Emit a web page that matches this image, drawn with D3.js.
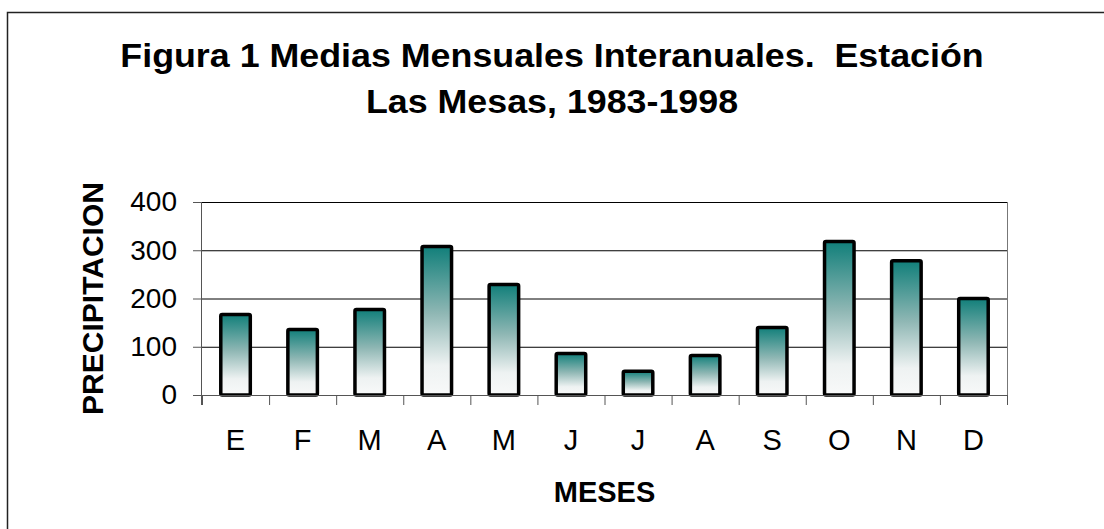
<!DOCTYPE html>
<html>
<head>
<meta charset="utf-8">
<script src="https://cdn.jsdelivr.net/npm/d3@7"></script>
<style>
  body { margin: 0; background: #fff; }
  svg { display: block; font-family: "Liberation Sans", Arial, sans-serif; }
  .title { white-space: pre; }
</style>
</head>
<body>
<svg id="chart" width="1104" height="529"></svg>
<script>
// monthly means, Las Mesas 1983-1998
var months = ["E", "F", "M", "A", "M", "J", "J", "A", "S", "O", "N", "D"];
var precip = [167, 136, 177, 308, 229, 86, 49, 82, 140, 318, 278, 200];
var yTicks = [0, 100, 200, 300, 400];
var titleLines = ["Figura 1 Medias Mensuales Interanuales.  Estación", "Las Mesas, 1983-1998"];

var svg = d3.select("#chart"),
    margin = {left: 202, top: 202, right: 97, bottom: 134},
    width = 1104 - margin.left - margin.right,
    height = 529 - margin.top - margin.bottom;

// outer frame, runs off the right and bottom edge like the source
svg.append("rect")
    .attr("x", 7.5).attr("y", 12.5)
    .attr("width", 1200).attr("height", 600)
    .attr("fill", "none").attr("stroke", "#222").attr("stroke-width", 1.5);

var grad = svg.append("defs").append("linearGradient")
    .attr("id", "barFill")
    .attr("x1", 0).attr("y1", 0).attr("x2", 0).attr("y2", 1);
grad.append("stop").attr("offset", "0%").attr("stop-color", "#117f7a");
grad.append("stop").attr("offset", "45%").attr("stop-color", "#8fb7b4");
grad.append("stop").attr("offset", "80%").attr("stop-color", "#eef2f2");
grad.append("stop").attr("offset", "100%").attr("stop-color", "#f8f9f9");

var x = d3.scaleBand()
    .domain(d3.range(months.length))
    .range([0, width])
    .paddingInner(0.56)
    .paddingOuter(0.28);

var y = d3.scaleLinear().domain([0, 400]).range([height, 0]);

var g = svg.append("g").attr("transform", "translate(" + margin.left + "," + margin.top + ")");

// title (source font is drawn a bit wide)
svg.append("text")
    .attr("class", "title")
    .attr("transform", "translate(552,0) scale(1.085,1)")
    .attr("text-anchor", "middle")
    .attr("font-weight", "bold").attr("font-size", 33)
    .selectAll("tspan").data(titleLines).enter().append("tspan")
    .attr("x", 0)
    .attr("y", function (d, i) { return 67 + i * 46; })
    .text(function (d) { return d; });

// gridlines
g.selectAll(".grid").data(yTicks.slice(1)).enter().append("line")
    .attr("x1", 0).attr("x2", width)
    .attr("y1", function (d) { return y(d) + 0.5; })
    .attr("y2", function (d) { return y(d) + 0.5; })
    .attr("stroke", "#000").attr("stroke-width", 1);

// right border of plot area
g.append("line")
    .attr("x1", width + 0.5).attr("x2", width + 0.5)
    .attr("y1", 0).attr("y2", height)
    .attr("stroke", "#777");

// bars
g.selectAll(".bar").data(precip).enter().append("rect")
    .attr("x", function (d, i) { return x(i); })
    .attr("y", function (d) { return y(d); })
    .attr("width", x.bandwidth())
    .attr("height", function (d) { return height - y(d); })
    .attr("rx", 1.5)
    .attr("fill", "url(#barFill)")
    .attr("stroke", "#000").attr("stroke-width", 3.5);

// y axis
var yAxis = g.append("g")
    .call(d3.axisLeft(y).tickValues(yTicks).tickSize(9).tickPadding(16));
yAxis.select(".domain").attr("stroke", "#555").attr("d", "M-0.5,0V" + (height + 10));
yAxis.selectAll(".tick line").attr("stroke", "#555");
yAxis.selectAll("text").attr("font-size", 28).attr("fill", "#000")
    .attr("font-family", "Liberation Sans, Arial, sans-serif");

// x axis: ticks between categories, labels centred under bars
var xAxis = g.append("g").attr("transform", "translate(0," + height + ")");
xAxis.append("line")
    .attr("x1", -9).attr("x2", width + 1)
    .attr("y1", 0.5).attr("y2", 0.5)
    .attr("stroke", "#555");
xAxis.selectAll(".xt").data(d3.range(months.length + 1)).enter().append("line")
    .attr("x1", function (d) { return d * width / months.length + 0.5; })
    .attr("x2", function (d) { return d * width / months.length + 0.5; })
    .attr("y1", 0).attr("y2", 10)
    .attr("stroke", "#555");
xAxis.selectAll(".xl").data(months).enter().append("text")
    .attr("x", function (d, i) { return x(i) + x.bandwidth() / 2; })
    .attr("y", 450 - margin.top - height)
    .attr("text-anchor", "middle")
    .attr("font-size", 29)
    .text(function (d) { return d; });

// axis titles
svg.append("text")
    .attr("transform", "translate(103," + (margin.top + height / 2) + ") rotate(-90)")
    .attr("text-anchor", "middle")
    .attr("font-weight", "bold").attr("font-size", 30)
    .text("PRECIPITACION");

svg.append("text")
    .attr("x", margin.left + width / 2).attr("y", 502)
    .attr("text-anchor", "middle")
    .attr("font-weight", "bold").attr("font-size", 29)
    .text("MESES");
</script>
</body>
</html>
